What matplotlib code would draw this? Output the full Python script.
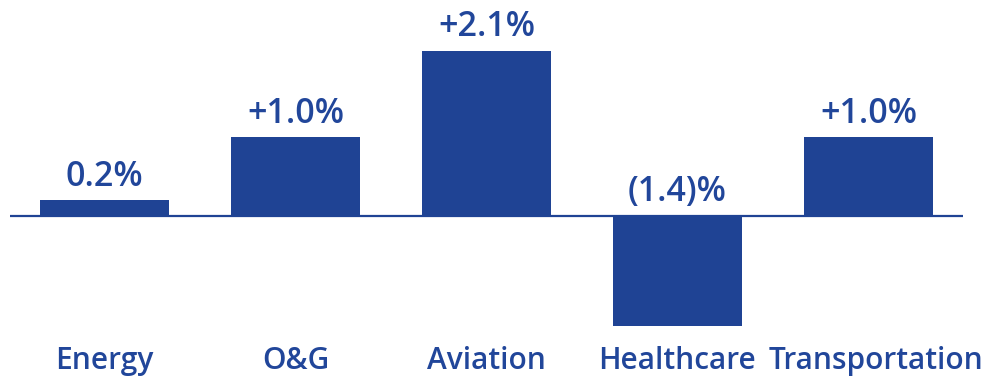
import matplotlib
matplotlib.use("Agg")
import matplotlib.pyplot as plt

segments = ["Energy", "O&G", "Aviation", "Healthcare", "Transportation"]
growth = [0.2, 1.0, 2.1, -1.4, 1.0]
labels = ["0.2%", "+1.0%", "+2.1%", "(1.4)%", "+1.0%"]

BAR = "#1f4394"
TEXT = "#21469a"

plt.rcParams["font.family"] = ["Open Sans", "DejaVu Sans"]

fig = plt.figure(figsize=(9.92, 3.76), dpi=100)
ax = fig.add_axes([0, 0, 1, 1])

x = range(len(segments))
ax.bar(x, growth, width=0.675, color=BAR, zorder=2)
ax.plot([-0.495, 4.495], [0, 0], color=BAR, lw=1.6, zorder=3, solid_capstyle="butt")

for i, (v, lab) in enumerate(zip(growth, labels)):
    ax.annotate(lab, (i, max(v, 0)), xytext=(0, 10.5), textcoords="offset points",
                ha="center", va="baseline", fontsize=24.5, fontweight="semibold", color=TEXT)
    # last label sits a little right of its bar, toward the edge
    dx = 0.04 if i == len(segments) - 1 else 0
    ax.text(i + dx, -1.947, segments[i], ha="center", va="baseline",
            fontsize=21.5, fontweight="semibold", color=TEXT)

ax.set_xlim(-0.547, 4.647)
ax.set_ylim(-2.036, 2.748)
ax.axis("off")

fig.savefig("out.png", dpi=100)
